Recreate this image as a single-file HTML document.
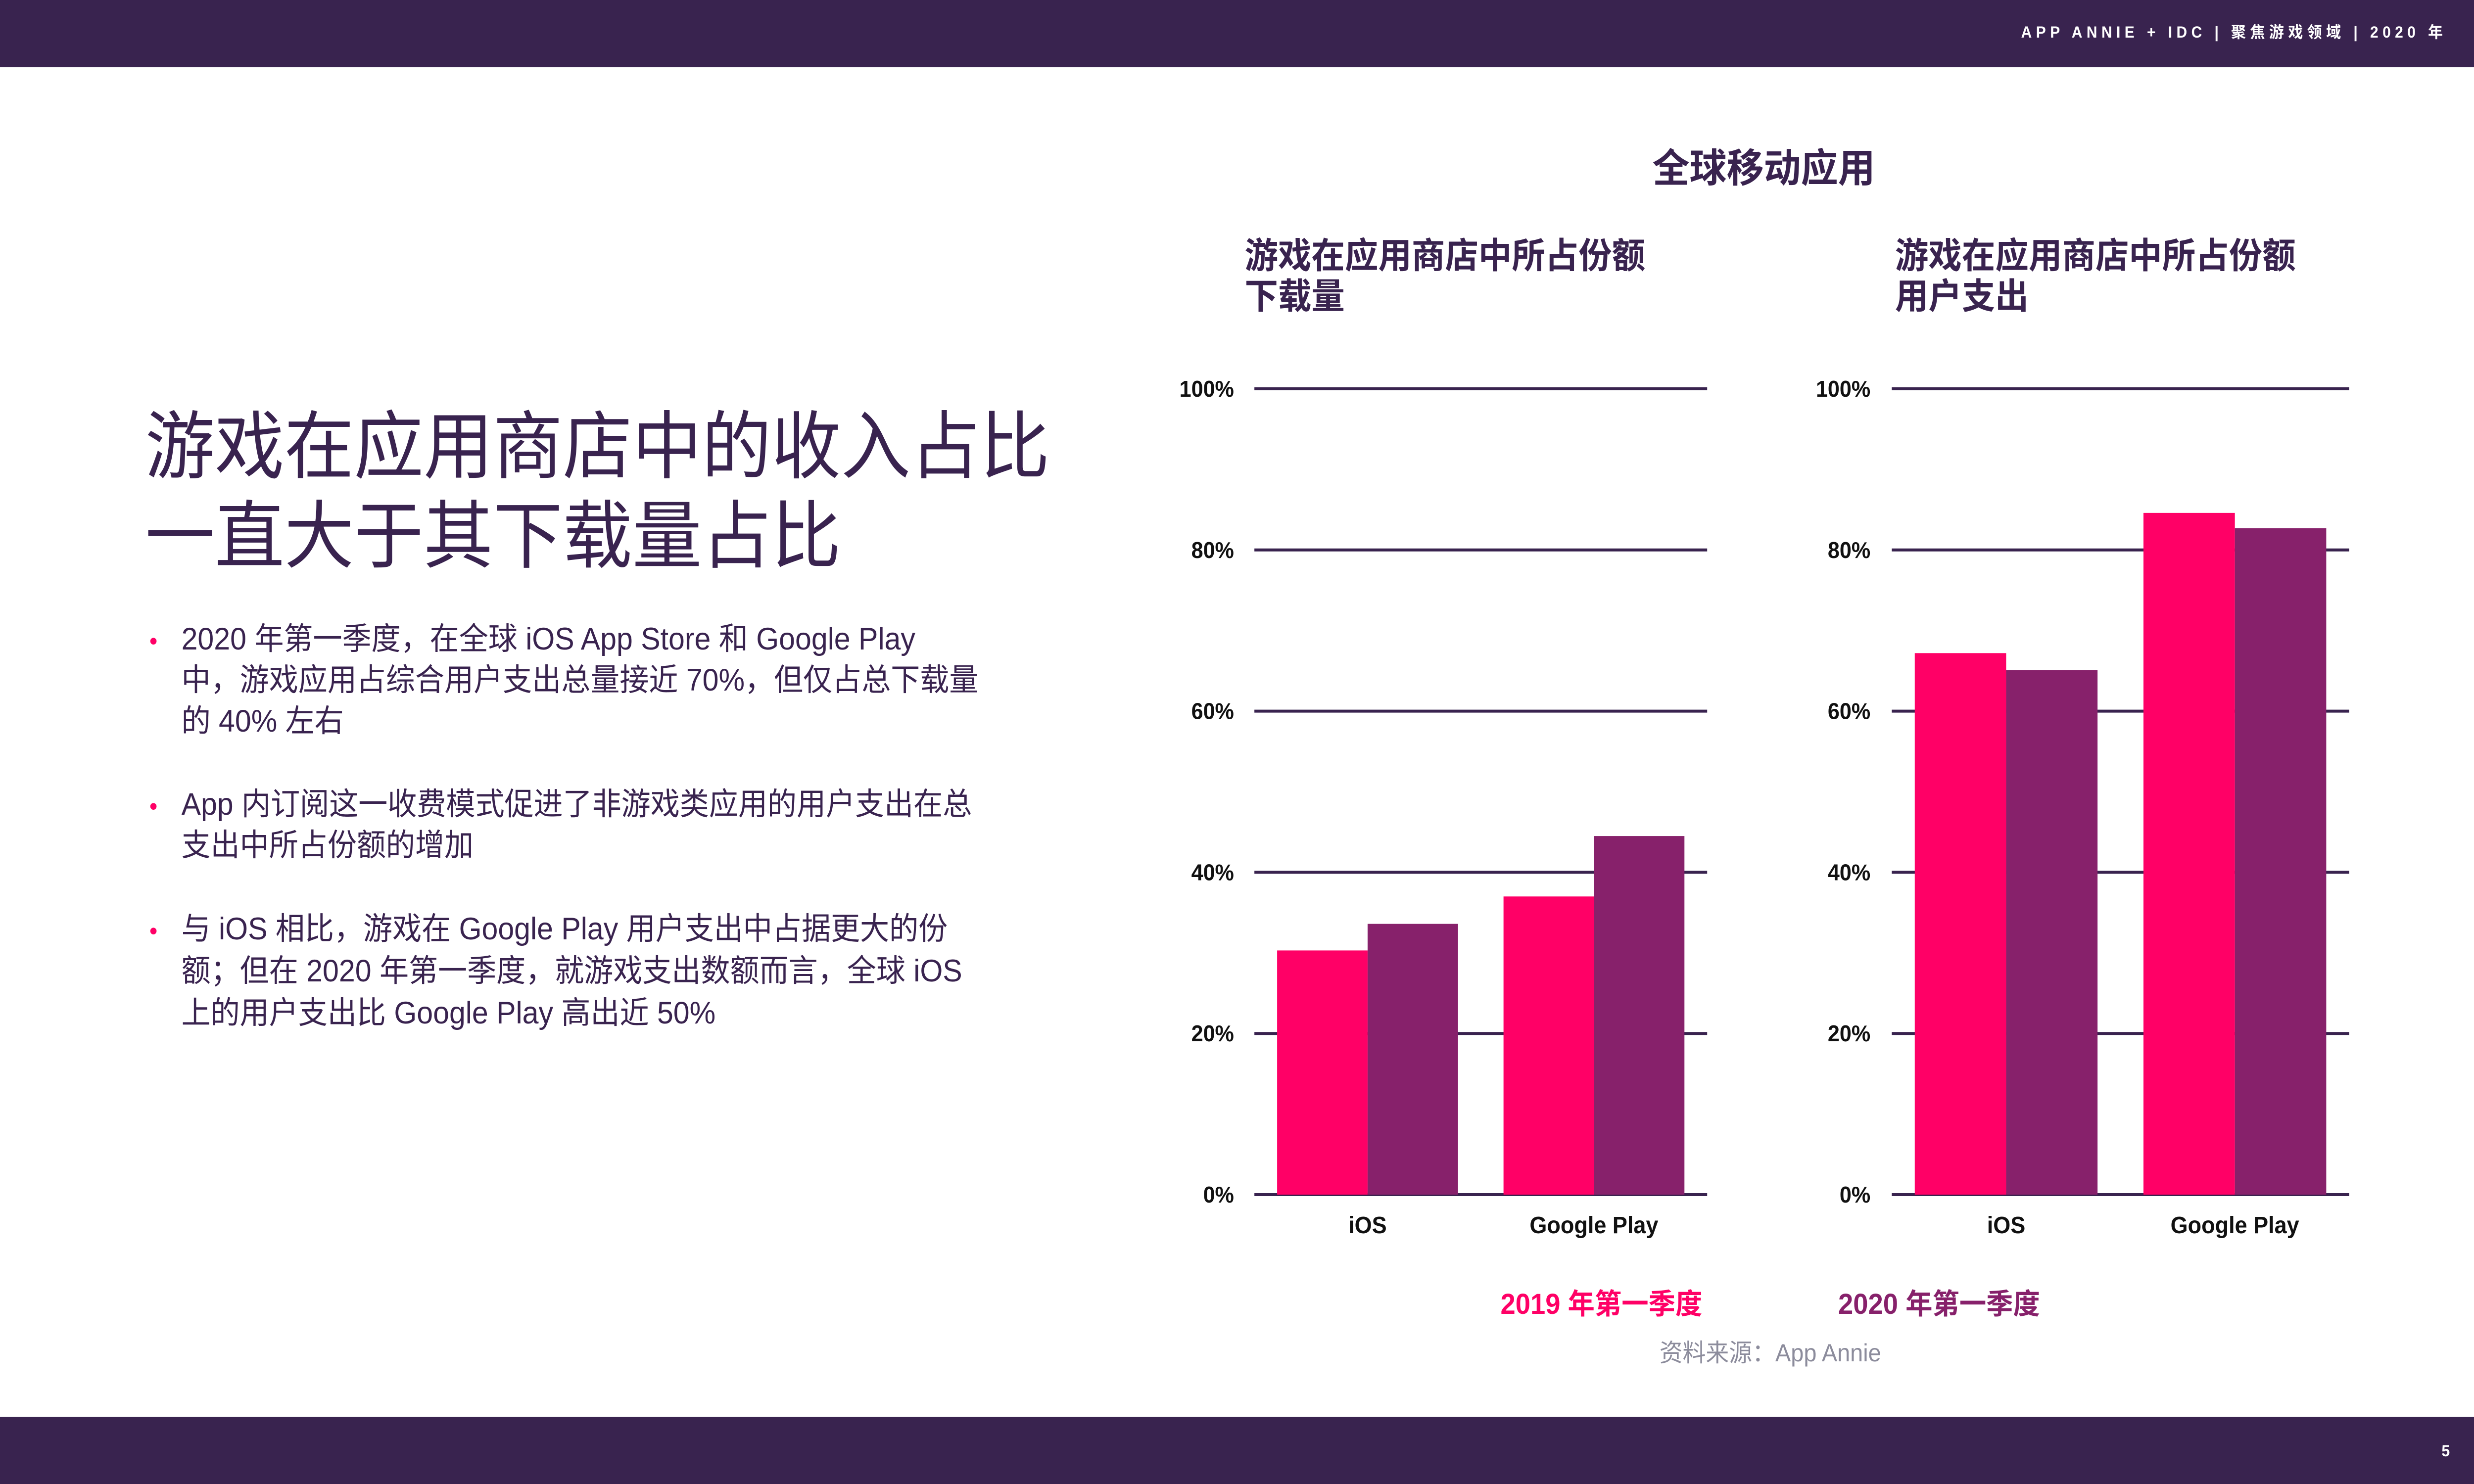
<!DOCTYPE html>
<html><head><meta charset="utf-8">
<style>
html,body{margin:0;padding:0;background:#fff;width:100%;height:100%;overflow:hidden;}
body{font-family:"Liberation Sans","Noto Sans CJK SC",sans-serif;}
#page{display:block;width:100vw;height:100vh;}
svg text{font-family:"Liberation Sans","Noto Sans CJK SC",sans-serif;}
</style></head>
<body>
<svg id="page" viewBox="0 0 5333 3000" preserveAspectRatio="none" xmlns="http://www.w3.org/2000/svg">
  <rect x="0" y="0" width="5333" height="136" fill="#39234f"/>
  <text x="5275" y="76" text-anchor="end" fill="#fff" font-size="32" font-weight="bold" letter-spacing="9">APP ANNIE + IDC  |  聚焦游戏领域  |  2020 年</text>
  <rect x="0" y="2864" width="5333" height="136" fill="#39234f"/>
  <text x="5272" y="2944" text-anchor="middle" fill="#fff" font-size="32" font-weight="bold">5</text>

  <g fill="#39234f" font-size="150">
    <text x="313" y="955">游戏在应用商店中的收入占比</text>
    <text x="313" y="1136">一直大于其下载量占比</text>
  </g>

  <g fill="#39234f" font-size="63">
    <g>
      <text x="322" y="1313" fill="#ff0066" font-size="50">•</text>
      <text x="391" y="1313">2020 年第一季度，在全球 iOS App Store 和 Google Play</text>
      <text x="391" y="1396">中，游戏应用占综合用户支出总量接近 70%，但仅占总下载量</text>
      <text x="391" y="1479">的 40% 左右</text>
    </g>
    <g>
      <text x="322" y="1647" fill="#ff0066" font-size="50">•</text>
      <text x="391" y="1647">App 内订阅这一收费模式促进了非游戏类应用的用户支出在总</text>
      <text x="391" y="1730">支出中所占份额的增加</text>
    </g>
    <g>
      <text x="322" y="1899" fill="#ff0066" font-size="50">•</text>
      <text x="391" y="1899">与 iOS 相比，游戏在 Google Play 用户支出中占据更大的份</text>
      <text x="391" y="1984">额；但在 2020 年第一季度，就游戏支出数额而言，全球 iOS</text>
      <text x="391" y="2069">上的用户支出比 Google Play 高出近 50%</text>
    </g>
  </g>

  <text x="3802" y="368" text-anchor="middle" fill="#39234f" font-size="80" font-weight="bold">全球移动应用</text>
  <g fill="#39234f" font-size="72" font-weight="bold">
    <text x="2683" y="542">游戏在应用商店中所占份额</text>
    <text x="2683" y="624">下载量</text>
  </g>
  <g fill="#39234f" font-size="72" font-weight="bold">
    <text x="4085" y="542">游戏在应用商店中所占份额</text>
    <text x="4085" y="624">用户支出</text>
  </g>

  <g id="chart1"></g>
  <g id="chart2"></g>

  <text x="3452" y="2656" text-anchor="middle" fill="#ff0066" font-size="58" font-weight="bold">2019 年第一季度</text>
  <text x="4180" y="2656" text-anchor="middle" fill="#87216b" font-size="58" font-weight="bold">2020 年第一季度</text>
  <text x="3816" y="2752" text-anchor="middle" fill="#8c8c9c" font-size="50">资料来源：App Annie</text>
</svg>
<script>
const categories = ["iOS", "Google Play"];
const yTicks = [0, 20, 40, 60, 80, 100];
const tickLabels = ["0%", "20%", "40%", "60%", "80%", "100%"];
const downloads2019 = [30.3, 37.0];
const downloads2020 = [33.6, 44.5];
const spending2019 = [67.2, 84.6];
const spending2020 = [65.1, 82.7];

const NS = "http://www.w3.org/2000/svg";
function mk(tag, attrs, parent) {
  const e = document.createElementNS(NS, tag);
  for (const k in attrs) e.setAttribute(k, attrs[k]);
  parent.appendChild(e);
  return e;
}
function drawChart(g, x0, x1, labelX, s2019, s2020, barW, prefix) {
  const yTop = 786, yBot = 2415;
  const yScale = v => yBot - (v / 100) * (yBot - yTop);
  const band = (x1 - x0) / categories.length;
  const xCenter = i => x0 + band * (i + 0.5);
  yTicks.forEach((t, i) => {
    const ln = mk("line", {x1: x0, x2: x1, y1: yScale(t), y2: yScale(t), stroke: "#39234f", "stroke-width": 6}, g);
    
    
    const tx = mk("text", {x: labelX, y: yScale(t) + 16, "text-anchor": "end", "font-size": 46, "font-weight": "bold", fill: "#111"}, g);
    tx.textContent = tickLabels[i];
    
    
  });
  categories.forEach((c, i) => {
    const cx = xCenter(i);
    const b1 = mk("rect", {x: cx - barW, y: yScale(s2019[i]), width: barW, height: yBot - yScale(s2019[i]), fill: "#ff0066"}, g);
    
    
    const b2 = mk("rect", {x: cx, y: yScale(s2020[i]), width: barW, height: yBot - yScale(s2020[i]), fill: "#87216b"}, g);
    
    
    const lab = mk("text", {x: cx, y: 2493, "text-anchor": "middle", "font-size": 48, "font-weight": "bold", fill: "#111"}, g);
    lab.textContent = c;
    
    
  });
}
drawChart(document.getElementById("chart1"), 2704, 3680, 2660, downloads2019, downloads2020, 195, "downloads");
drawChart(document.getElementById("chart2"), 4078, 5064, 4032, spending2019, spending2020, 197, "spending");
</script>
</body></html>
